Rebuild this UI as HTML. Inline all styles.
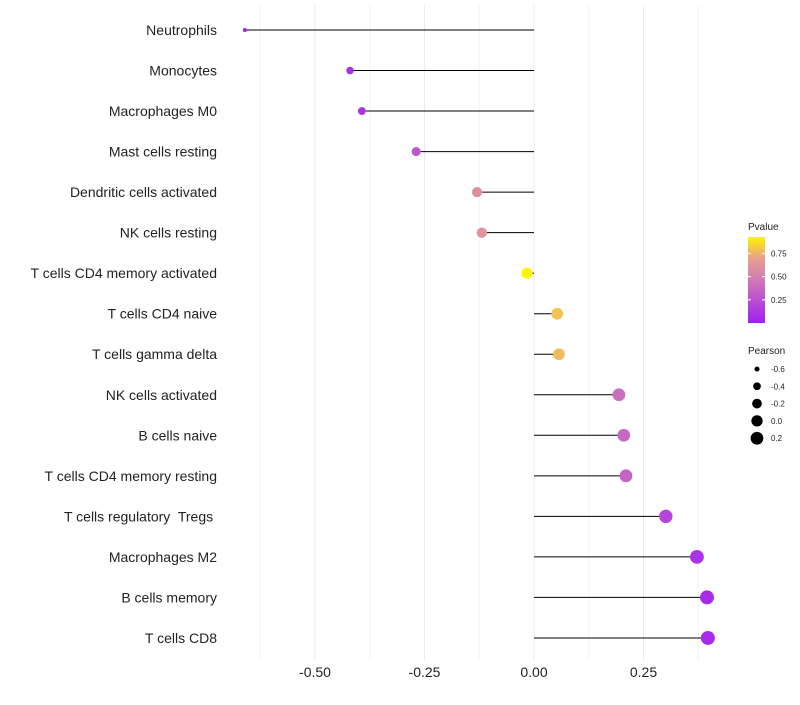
<!DOCTYPE html>
<html><head><meta charset="utf-8"><style>
body{margin:0;background:#fff;font-family:"Liberation Sans",sans-serif}
text{white-space:pre}
</style></head><body>
<svg id="c" width="800" height="700"></svg>
<script>
const categories=["Neutrophils","Monocytes","Macrophages M0","Mast cells resting","Dendritic cells activated","NK cells resting","T cells CD4 memory activated","T cells CD4 naive","T cells gamma delta","NK cells activated","B cells naive","T cells CD4 memory resting","T cells regulatory  Tregs ","Macrophages M2","B cells memory","T cells CD8"];
const pearson=[-0.66,-0.42,-0.393,-0.269,-0.13,-0.119,-0.016,0.053,0.057,0.194,0.205,0.21,0.301,0.372,0.395,0.397];
const pvalue=[0.01,0.08,0.1,0.28,0.6,0.62,0.95,0.8,0.78,0.4,0.38,0.36,0.2,0.1,0.06,0.06];
const xTicks=[-0.5,-0.25,0,0.25];
const xTickLabels=["-0.50","-0.25","0.00","0.25"];
const colorTicks=[0.25,0.5,0.75];
const sizeLegend=[-0.6,-0.4,-0.2,0.0,0.2];
const NS="http://www.w3.org/2000/svg";
const svg=document.getElementById('c');
function x(v){return 534+v*438;}
function y(i){return 30+i*40.53;}
function r(v){return Math.sqrt(Math.max(1,4+42.45*(v+0.66)));}
function lerp(a,b,t){return a.map((c,i)=>Math.round(c+(b[i]-c)*t));}
const stops=[[0,[160,32,240]],[0.5,[212,128,178]],[0.7,[232,160,140]],[0.95,[255,245,0]]];
function col(p){p=Math.max(0,Math.min(0.95,p));for(let k=0;k<stops.length-1;k++){const a=stops[k],b=stops[k+1];if(p<=b[0])return `rgb(${lerp(a[1],b[1],(p-a[0])/(b[0]-a[0]))})`;}return 'rgb(255,245,0)';}
function mk(t,a,p){const e=document.createElementNS(NS,t);for(const k in a)e.setAttribute(k,a[k]);(p||svg).appendChild(e);return e;}
for(let v=-0.625;v<=0.376;v+=0.125){const g=mk('line',{x1:x(v),x2:x(v),y1:5,y2:660,stroke:Math.abs(v*4-Math.round(v*4))<1e-6?'#ebebeb':'#f4f4f4','stroke-width':1});

}
xTicks.forEach((v,i)=>{const t=mk('text',{x:x(v),y:677,'text-anchor':'middle','font-size':14,fill:'#222'});t.textContent=xTickLabels[i];

});
categories.forEach((c,i)=>{
const t=mk('text',{x:217,y:y(i)+5,'text-anchor':'end','font-size':14,fill:'#222'});t.textContent=c;


const l=mk('line',{x1:x(0),x2:x(pearson[i]),y1:y(i),y2:y(i),stroke:'#000','stroke-width':1});


const d=mk('circle',{cx:x(pearson[i]),cy:y(i),r:r(pearson[i]),fill:col(pvalue[i])});


});
let tt=mk('text',{x:748,y:230,'font-size':10,fill:'#222'});tt.textContent='Pvalue';


const defs=mk('defs',{});const lg=mk('linearGradient',{id:'g',x1:0,y1:1,x2:0,y2:0},defs);
stops.forEach(s=>mk('stop',{offset:s[0]/0.93,'stop-color':`rgb(${s[1]})`},lg));
const cb=mk('rect',{x:748,y:237,width:17,height:86,fill:'url(#g)'});


colorTicks.forEach(p=>{const yy=323-p/0.25*23.2;
mk('line',{x1:748,x2:751,y1:yy,y2:yy,stroke:'#fff'});mk('line',{x1:762,x2:765,y1:yy,y2:yy,stroke:'#fff'});
const t=mk('text',{x:771,y:yy+3,'font-size':8,fill:'#222'});t.textContent=p.toFixed(2);

});
tt=mk('text',{x:748,y:354,'font-size':10,fill:'#222'});tt.textContent='Pearson';


sizeLegend.forEach((v,i)=>{const yy=369+i*17.3;
const d=mk('circle',{cx:757,cy:yy,r:r(v),fill:'#000'});


const t=mk('text',{x:771,y:yy+3,'font-size':8,fill:'#222'});t.textContent=v.toFixed(1);

});
</script>
</body></html>
